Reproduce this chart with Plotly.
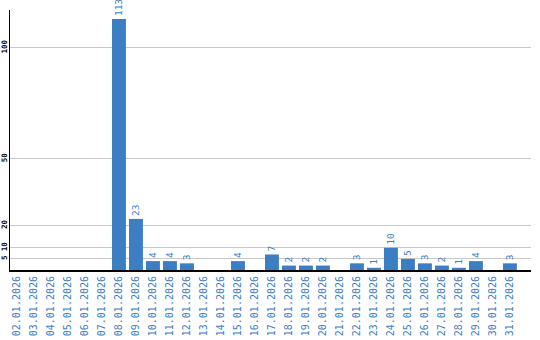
import plotly.graph_objects as go

dates = ["02.01.2026", "03.01.2026", "04.01.2026", "05.01.2026", "06.01.2026",
         "07.01.2026", "08.01.2026", "09.01.2026", "10.01.2026", "11.01.2026",
         "12.01.2026", "13.01.2026", "14.01.2026", "15.01.2026", "16.01.2026",
         "17.01.2026", "18.01.2026", "19.01.2026", "20.01.2026", "21.01.2026",
         "22.01.2026", "23.01.2026", "24.01.2026", "25.01.2026", "26.01.2026",
         "27.01.2026", "28.01.2026", "29.01.2026", "30.01.2026", "31.01.2026"]
values = [0, 0, 0, 0, 0, 0, 113, 23, 4, 4, 3, 0, 0, 4, 0,
          7, 2, 2, 2, 0, 3, 1, 10, 5, 3, 2, 1, 4, 0, 3]
y_ticks = [5, 10, 20, 50, 100]

blue = "#3b7ec4"
x_idx = list(range(len(dates)))
labels = [str(v) if v > 0 else "" for v in values]

fig = go.Figure(go.Bar(
    x=x_idx, y=values, text=labels, textposition="outside", textangle=-90,
    textfont=dict(family="DejaVu Sans Mono", size=9.5, color=blue),
    marker=dict(color=blue, line=dict(width=0)), width=0.82, cliponaxis=False,
    constraintext="none",
))

fig.update_layout(
    width=540, height=340, margin=dict(l=10, r=9, t=10, b=70),
    paper_bgcolor="white", plot_bgcolor="white", showlegend=False,
    bargap=0.18,
)
fig.update_xaxes(
    range=[-0.41, 30.24], tickmode="array", tickvals=x_idx, ticktext=dates,
    tickangle=-90, tickfont=dict(family="DejaVu Sans Mono", size=10, color=blue),
    showgrid=False, showline=True, linecolor="black", linewidth=2,
    ticks="", ticklen=0, zeroline=False, automargin=False,
)
fig.update_yaxes(
    range=[0, 117.1], tickmode="array", tickvals=y_ticks,
    ticktext=[str(t) for t in y_ticks], tickangle=-90,
    tickfont=dict(family="DejaVu Sans Mono", size=7.5, color="black", weight="bold"),
    showgrid=True, gridcolor="#c8c8c8", gridwidth=1,
    showline=True, linecolor="black", linewidth=1, zeroline=False, ticks="",
    automargin=False, ticklabelstandoff=-1,
)

fig.write_html("out.html")
